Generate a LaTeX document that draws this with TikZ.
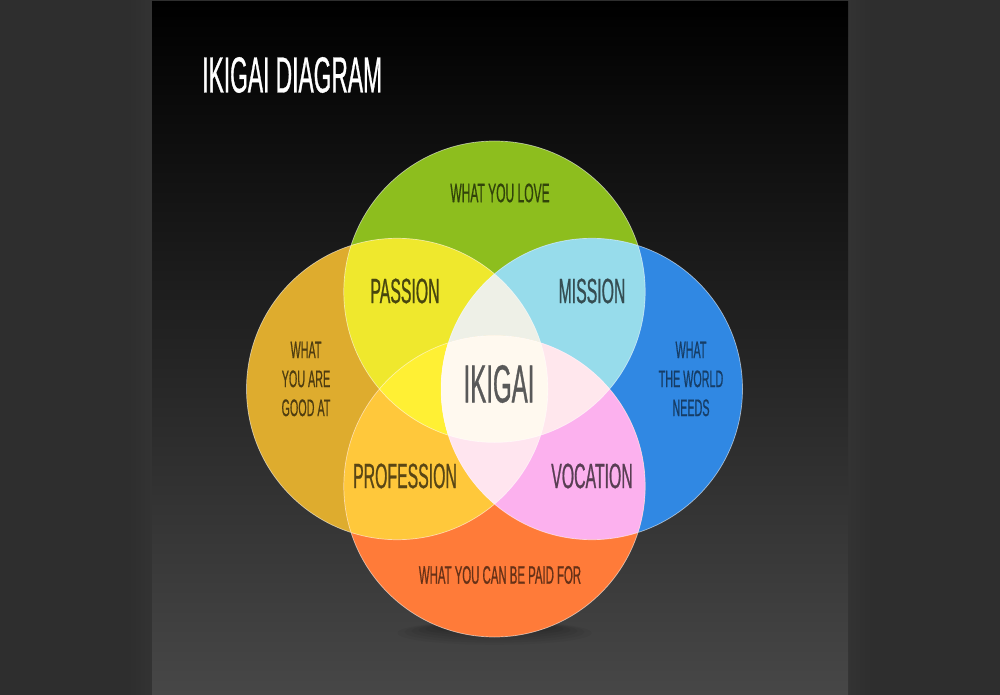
\documentclass[tikz,border=0pt]{standalone}
\usepackage{fontspec}
\newfontfamily\ikifont[FakeStretch=0.45,FakeBold=0.6]{Liberation Sans}
\usetikzlibrary{positioning}

\definecolor{outerbg}{HTML}{2E2E2E}
\definecolor{panelbot}{HTML}{474747}
\definecolor{loveC}{HTML}{8DBE1E}
\definecolor{goodC}{HTML}{DEAC2E}
\definecolor{worldC}{HTML}{3088E3}
\definecolor{paidC}{HTML}{FF7B39}
\definecolor{passionC}{HTML}{EFE82D}
\definecolor{missionC}{HTML}{97DCEB}
\definecolor{professionC}{HTML}{FFC83B}
\definecolor{vocationC}{HTML}{FCB1EE}
\definecolor{topmidC}{HTML}{EEF0E7}
\definecolor{leftmidC}{HTML}{FFF034}
\definecolor{rightmidC}{HTML}{FFE7ED}
\definecolor{botmidC}{HTML}{FFE5EF}
\definecolor{ikigaiC}{HTML}{FFF9EF}

% centre of the diagram, offset of the four circles and their radius
\def\cx{494.5}
\def\cy{389}
\def\ikD{97.3}
\def\ikR{150.7}
\newcommand\circT{(\cx,\cy-\ikD) circle (\ikR)}
\newcommand\circL{(\cx-\ikD,\cy) circle (\ikR)}
\newcommand\circR{(\cx+\ikD,\cy) circle (\ikR)}
\newcommand\circB{(\cx,\cy+\ikD) circle (\ikR)}

\begin{document}
\begin{tikzpicture}[x=0.025cm,y=-0.025cm,
    word/.style={font=\ikifont\fontsize{25}{30}\selectfont, align=center, inner sep=0pt},
    small/.style={font=\ikifont\fontsize{19}{20.6}\selectfont, align=center, inner sep=0pt},
    rim/.style={draw=white, draw opacity=0.55, line width=0.5pt},
]
    % background and panel
    \fill [outerbg] (0,0) rectangle (1000,695);
    \shade [left color=black!80, right color=outerbg] (848,0) rectangle (872,695);
    \shade [right color=black!80, left color=outerbg] (128,0) rectangle (152,695);
    \shade [top color=black, bottom color=panelbot] (152,2) rectangle (848,695);
    \useasboundingbox (0,0) rectangle (1000,695);

    \node [font=\ikifont\fontsize{36}{40}\selectfont, white, anchor=west, inner sep=0pt]
        (title) at (202,75) {IKIGAI DIAGRAM};

    % soft shadow under the bottom circle
    \foreach \s in {1,...,6}
        \fill [black, opacity=0.045] (\cx,627+\s) ellipse ({55+7*\s} and {4+1.3*\s});

    % the four circles
    \fill [loveC] \circT;
    \fill [goodC] \circL;
    \fill [worldC] \circR;
    \fill [paidC] \circB;

    % overlaps of two circles
    \begin{scope} \clip \circT; \fill [passionC] \circL; \fill [missionC] \circR; \end{scope}
    \begin{scope} \clip \circB; \fill [professionC] \circL; \fill [vocationC] \circR; \end{scope}

    % overlaps of three circles
    \begin{scope} \clip \circT; \clip \circL; \fill [topmidC] \circR; \end{scope}
    \begin{scope} \clip \circT; \clip \circL; \fill [leftmidC] \circB; \end{scope}
    \begin{scope} \clip \circT; \clip \circR; \fill [rightmidC] \circB; \end{scope}
    \begin{scope} \clip \circL; \clip \circR; \fill [botmidC] \circB; \end{scope}

    % all four
    \begin{scope} \clip \circT; \clip \circL; \clip \circR; \fill [ikigaiC] \circB; \end{scope}

    \draw [rim] \circT \circL \circR \circB;

    % labels
    \node [small, text=loveC!35!black] (love) at (500,193) {WHAT YOU LOVE};
    \node [small, text=goodC!35!black, font=\ikifont\fontsize{17}{20.6}\selectfont] (good) at (306,379) {WHAT\\YOU ARE\\GOOD AT};
    \node [small, text=worldC!45!black, font=\ikifont\fontsize{17}{20.6}\selectfont] (world) at (691,379) {WHAT\\THE WORLD\\NEEDS};
    \node [small, text=paidC!40!black, font=\ikifont\fontsize{18}{20.6}\selectfont] (paid) at (500,575) {WHAT YOU CAN BE PAID FOR};

    \node [word, text=passionC!30!black] (passion) at (405,291) {PASSION};
    \node [word, text=missionC!35!black] (mission) at (592,291) {MISSION};
    \node [word, text=professionC!35!black] (profession) at (405,476) {PROFESSION};
    \node [word, text=vocationC!35!black] (vocation) at (592,476) {VOCATION};
    \node [word, text=black!65, font=\ikifont\fontsize{38}{40}\selectfont] (ikigai) at (499,384) {IKIGAI};
\end{tikzpicture}
\end{document}
